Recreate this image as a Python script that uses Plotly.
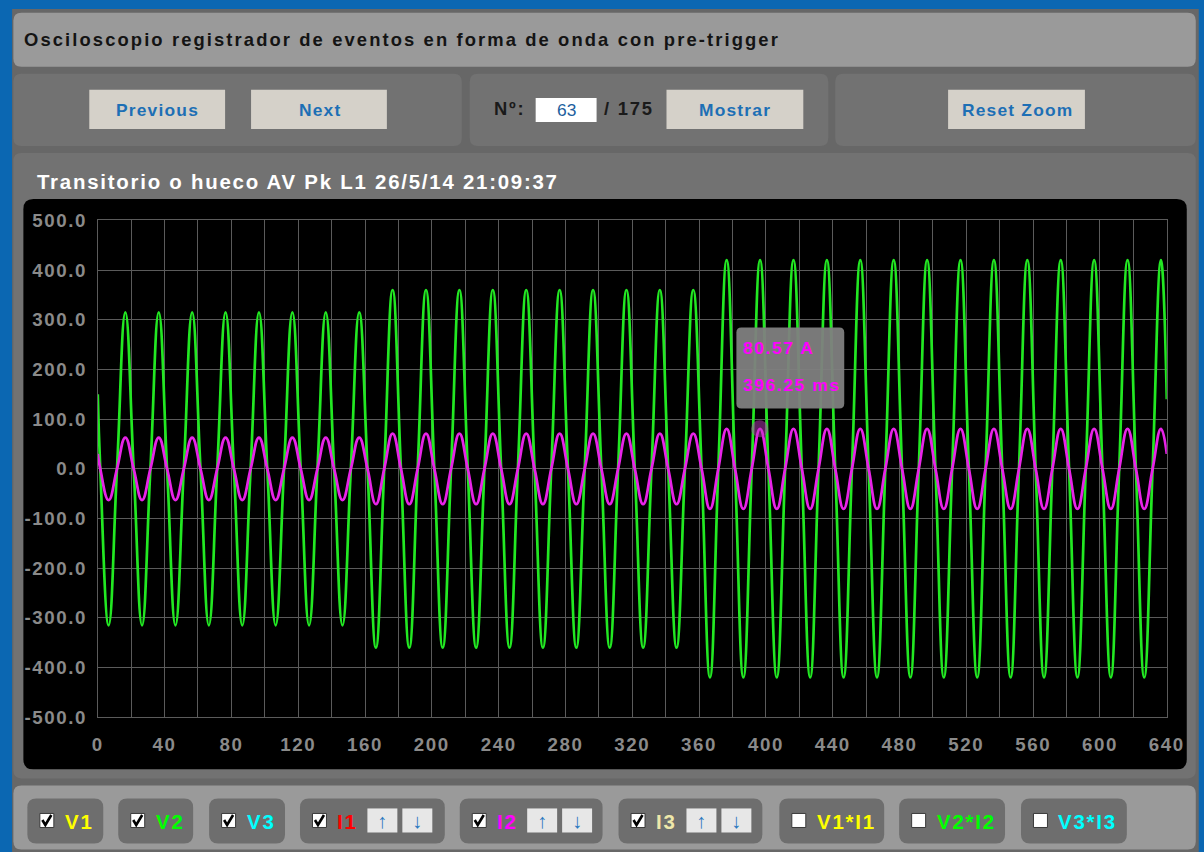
import plotly.graph_objects as go

# ---------------- data ----------------
# Waveform record: 0..640 ms, 50 Hz (20 ms per cycle), 32 cycles.
T_START_MS = 0.0
T_END_MS = 640.0
FIRST_ZERO_MS = 1.5      # first downward zero crossing
QUARTER_MS = 5.0         # zero -> trough -> zero -> peak spacing (quarter cycle)

# V2 (green, volts): trough and peak of each of the 32 cycles
V2_TROUGHS = [-315, -315, -315, -315, -315, -315, -315, -315,
              -360, -360, -360, -360, -360, -360, -360, -360, -360, -360,
              -420, -420, -420, -420, -420, -420, -420, -420, -420, -420, -420, -420, -420, -420]
V2_PEAKS = [315, 315, 315, 315, 315, 315, 315, 315,
            360, 360, 360, 360, 360, 360, 360, 360, 360, 360,
            420, 420, 420, 420, 420, 420, 420, 420, 420, 420, 420, 420, 420, 420]
V2_START, V2_END = 150, 140

# I2 (magenta, amps)
I2_TROUGHS = [-63, -63, -63, -63, -63, -63, -63, -63,
              -71, -71, -71, -71, -71, -71, -71, -71, -71, -71,
              -80.6, -80.6, -80.6, -80.6, -80.6, -80.6, -80.6, -80.6, -80.6, -80.6, -80.6, -80.6, -80.6, -80.6]
I2_PEAKS = [63, 63, 63, 63, 63, 63, 63, 63,
            71, 71, 71, 71, 71, 71, 71, 71, 71, 71,
            80.6, 80.6, 80.6, 80.6, 80.6, 80.6, 80.6, 80.6, 80.6, 80.6, 80.6, 80.6, 80.6, 80.6]
I2_START, I2_END = 30, 30

# hovered point shown in the tooltip
HOVER_T_MS = 396.25
HOVER_I_A = 80.57

X_TICKS = [0, 40, 80, 120, 160, 200, 240, 280, 320, 360, 400, 440, 480, 520, 560, 600, 640]
Y_TICKS = [-500, -400, -300, -200, -100, 0, 100, 200, 300, 400, 500]

PAGE_TITLE = "Osciloscopio registrador de eventos en forma de onda con pre-trigger"
CHART_TITLE = "Transitorio o hueco AV Pk L1 26/5/14 21:09:37"
EVENT_NO, EVENT_TOTAL = 63, 175
CHANNELS = ["V1", "V2", "V3", "I1", "I2", "I3", "V1*I1", "V2*I2", "V3*I3"]
CHANNEL_COLORS = ["#ffff00", "#00ff00", "#00ffff", "#ff0000", "#ff00ff", "#eee8aa",
                  "#ffff00", "#00ff00", "#00ffff"]
CHANNEL_CHECKED = [True, True, True, True, True, True, False, False, False]
CHANNEL_ARROWS = [False, False, False, True, True, True, False, False, False]


def build_series(start, troughs, peaks, end):
    t = [T_START_MS]
    v = [start]
    for k in range(len(peaks)):
        base = FIRST_ZERO_MS + 4 * QUARTER_MS * k
        t += [base, base + QUARTER_MS, base + 2 * QUARTER_MS, base + 3 * QUARTER_MS]
        v += [0, troughs[k], 0, peaks[k]]
    t.append(T_END_MS)
    v.append(end)
    return t, v


t_v2, v_v2 = build_series(V2_START, V2_TROUGHS, V2_PEAKS, V2_END)
t_i2, v_i2 = build_series(I2_START, I2_TROUGHS, I2_PEAKS, I2_END)

# ---------------- layout helpers ----------------
# Layout positions are given in screenshot pixels and converted to page pixels
# (the capture shows the page slightly reduced and offset), then to paper units.
W, H = 1240, 880
SX, BX = 0.982, 5.6
SY, BY = 0.974, 10.3
FS = 1 / 0.978          # font-size compensation
FONT = "Liberation Sans"


def X(ix):
    return ((ix - BX) / SX) / W


def Y(iy):
    return 1 - ((iy - BY) / SY) / H


def rrect(x0, y0, x1, y1, r, fill, layer="below", line=None):
    p = (f"M{X(x0 + r)},{Y(y0)} L{X(x1 - r)},{Y(y0)} Q{X(x1)},{Y(y0)} {X(x1)},{Y(y0 + r)} "
         f"L{X(x1)},{Y(y1 - r)} Q{X(x1)},{Y(y1)} {X(x1 - r)},{Y(y1)} "
         f"L{X(x0 + r)},{Y(y1)} Q{X(x0)},{Y(y1)} {X(x0)},{Y(y1 - r)} "
         f"L{X(x0)},{Y(y0 + r)} Q{X(x0)},{Y(y0)} {X(x0 + r)},{Y(y0)} Z")
    return dict(type="path", xref="paper", yref="paper", path=p, fillcolor=fill,
                line=line or dict(width=0), layer=layer)


def rect(x0, y0, x1, y1, fill, layer="below", line=None):
    return dict(type="rect", xref="paper", yref="paper", x0=X(x0), x1=X(x1), y0=Y(y1), y1=Y(y0),
                fillcolor=fill, line=line or dict(width=0), layer=layer)


def txt(x, y, s, size, color, bold=True, anchor="left", ls=None):
    if ls:
        s = f"<span style='letter-spacing:{ls}px'>{s}</span>"
    return dict(x=X(x), y=Y(y), xref="paper", yref="paper", text=s, showarrow=False,
                xanchor=anchor, yanchor="middle", borderpad=0, borderwidth=0,
                font=dict(family=FONT, size=size * FS, color=color, weight=700 if bold else 400))


shapes = []
ann = []

# page frame
shapes.append(rect(-20, -20, 1260, 900, "#0b67b2"))
shapes.append(rect(11.7, 9.3, 1200, 900, "#676767"))
# header
shapes.append(rrect(13, 13, 1197, 67, 8, "#9a9a9a"))
ann.append(txt(23.5, 40, PAGE_TITLE, 18, "#141414", ls=2.1))
# control row
for x0, x1 in [(13, 462), (470, 829), (836, 1197)]:
    shapes.append(rrect(x0, 74, x1, 146, 8, "#727272"))
BTN = "#d5d1c9"
BTN_TXT = "#1d6fb5"
for (x0, x1), label in [((89, 225), "Previous"), ((251, 387), "Next"),
                        ((667, 804), "Mostrar"), ((949, 1086), "Reset Zoom")]:
    shapes.append(rect(x0, 90, x1, 129, BTN))
    ann.append(txt((x0 + x1) / 2 + 0.6, 110, label, 17, BTN_TXT, anchor="center", ls=1.2))
ann.append(txt(494, 109, "Nº:", 18, "#1a1a1a", ls=1.8))
shapes.append(rect(536, 98, 597, 122, "#ffffff"))
ann.append(txt(567, 110, str(EVENT_NO), 17, "#1d5f9e", bold=False, anchor="center"))
ann.append(txt(604, 109, f"/ {EVENT_TOTAL}", 18, "#1a1a1a", ls=1.8))

# chart panel
shapes.append(rrect(13, 153, 1197, 777, 8, "#727272"))
ann.append(txt(37, 181, CHART_TITLE, 20, "#ffffff", ls=1.75))
shapes.append(rrect(23, 199, 1188, 768, 10, "#000000"))

# bottom channel bar
shapes.append(rrect(13, 784, 1197, 848, 8, "#9a9a9a"))
pills = [(27, 103), (118, 193), (209, 285), (300, 445), (460, 603), (619, 763),
         (780, 885), (900, 1006), (1022, 1128)]
for i, (x0, x1) in enumerate(pills):
    shapes.append(rrect(x0, 797, x1, 842, 9, "#6e6e6e"))
    cx = x0 + 12.5
    shapes.append(rect(cx, 812, cx + 14, 826, "#ffffff", line=dict(color="#3a3a3a", width=1)))
    if CHANNEL_CHECKED[i]:
        ck = (f"M{X(cx + 2.5)},{Y(818.5)} L{X(cx + 5.5)},{Y(823.5)} L{X(cx + 11.5)},{Y(813.5)}")
        shapes.append(dict(type="path", xref="paper", yref="paper", path=ck,
                           line=dict(color="#000000", width=2.6), layer="below"))
    ann.append(txt(cx + 25, 820, CHANNELS[i], 20, CHANNEL_COLORS[i], ls=1.8))
    if CHANNEL_ARROWS[i]:
        ax = x0 + 67.5 if i != 5 else x0 + 68
        for j, arrow in enumerate(["↑", "↓"]):
            bx = ax + j * 35
            shapes.append(rect(bx, 807, bx + 30, 831, "#e7e7e7"))
            ann.append(txt(bx + 15, 819, arrow, 20, "#2a78bf", bold=False, anchor="center"))

# tooltip
shapes.append(rrect(737, 327, 845, 408, 5, "rgba(128,128,128,0.95)", layer="above"))
ann.append(txt(744, 348, f"{HOVER_I_A:.2f} A", 17, "#ff00ff", ls=1.6))
ann.append(txt(744, 384, f"{HOVER_T_MS:.2f} ms", 17, "#ff00ff", ls=1.6))

# ---------------- figure ----------------
fig = go.Figure()
fig.add_trace(go.Scatter(x=t_v2, y=v_v2, mode="lines", name="V2",
                         line=dict(color="#22e822", width=2.7, shape="spline", smoothing=1.3),
                         hoverinfo="skip"))
fig.add_trace(go.Scatter(x=t_i2, y=v_i2, mode="lines", name="I2",
                         line=dict(color="#e823e8", width=2.7, shape="spline", smoothing=1.3),
                         hoverinfo="skip"))
fig.add_trace(go.Scatter(x=[HOVER_T_MS], y=[HOVER_I_A], mode="markers",
                         marker=dict(size=17, color="rgba(190,60,190,0.5)"),
                         hoverinfo="skip"))

GRID = "#5b5b5b"
TICKF = dict(family=FONT, size=18.3 * FS, color="#8a8a8a", weight=700)
fig.update_layout(
    width=W, height=H, autosize=False,
    margin=dict(l=0, r=0, t=0, b=0, pad=0),
    paper_bgcolor="#0b67b2", plot_bgcolor="#000000",
    showlegend=False, shapes=shapes, annotations=ann,
    xaxis=dict(domain=[X(97.5), X(1168)], range=[0, 640],
               tickvals=X_TICKS, ticktext=[f"<span style='letter-spacing:1.6px'>{v}</span>" for v in X_TICKS],
               showgrid=True, gridcolor=GRID, gridwidth=1,
               minor=dict(dtick=20, tick0=0, showgrid=True, gridcolor=GRID, gridwidth=1),
               zeroline=False, showline=True, linecolor=GRID, linewidth=1, mirror=True,
               ticks="outside", ticklen=10.5, tickcolor="rgba(0,0,0,0)", tickfont=TICKF),
    yaxis=dict(domain=[Y(716), Y(220.3)], range=[-500, 500],
               tickvals=Y_TICKS, ticktext=[f"<span style='letter-spacing:1.6px'>{v:.1f}</span>" for v in Y_TICKS],
               showgrid=True, gridcolor=GRID, gridwidth=1,
               zeroline=False, showline=True, linecolor=GRID, linewidth=1, mirror=True,
               ticks="outside", ticklen=6, tickcolor="rgba(0,0,0,0)", tickfont=TICKF),
)

fig.write_html("out.html", config={"displayModeBar": False},
               post_script="document.documentElement.style.background='#0b67b2';"
                           "document.body.style.background='#0b67b2';"
                           "document.body.style.margin='0px';document.body.style.overflow='hidden';")
